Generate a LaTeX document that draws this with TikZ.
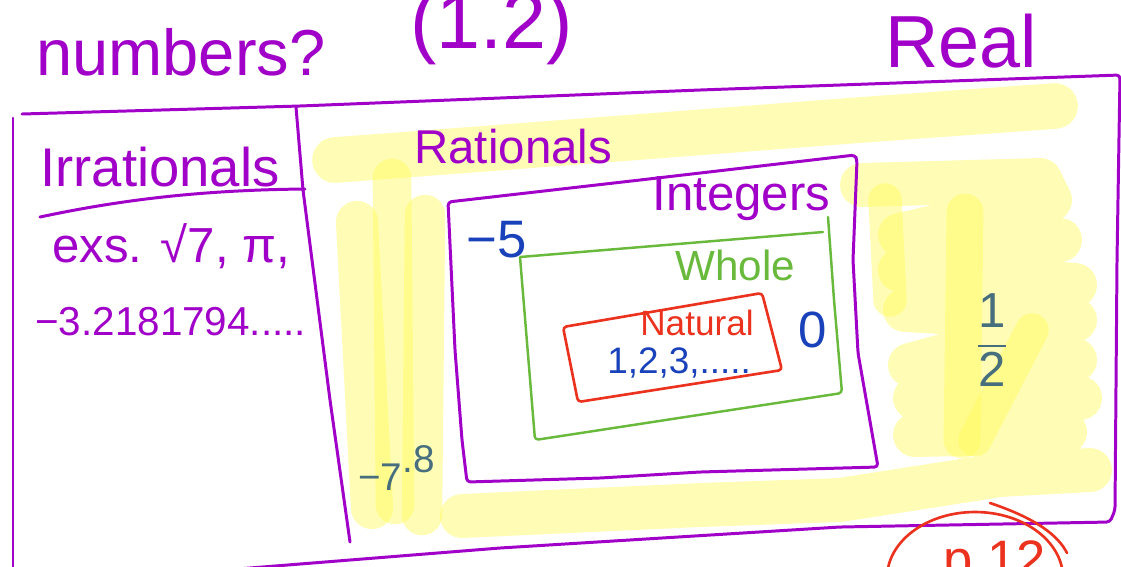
\documentclass[tikz,border=0pt]{standalone}
\usepackage{amsmath}
\usepackage{fontspec}
\setmainfont{Liberation Sans}
\usepackage{xcolor}
\usetikzlibrary{positioning}

\definecolor{penpurple}{RGB}{160,0,200}
\definecolor{pengreen}{RGB}{105,185,60}
\definecolor{penred}{RGB}{235,50,30}
\definecolor{penblue}{RGB}{25,65,185}
\definecolor{penteal}{RGB}{70,110,125}
\definecolor{hilite}{RGB}{255,250,90}
\newcommand{\hand}[1]{\fontsize{#1}{#1}\selectfont}

\begin{document}
\begin{tikzpicture}[x=0.02cm, y=-0.02cm,
    pen/.style={line width=1.7pt, line cap=round, line join=round, rounded corners=2pt},
    hl/.style={line cap=round, line join=round, draw=hilite, opacity=0.45},
    txt/.style={inner sep=0pt, anchor=base west}]
\useasboundingbox (0,0) rectangle (1121,566);
% Highlighter, first pass: top band, right blob, bottom band
\draw[hl, line width=26pt] (335,160) -- (600,140) -- (860,120) -- (1055,106);
\draw[hl, line width=25pt] (862,185) -- (1040,180) -- (1050,200) -- (900,235) -- (1060,240)
    -- (900,270) -- (1075,285) -- (905,310) -- (1075,320) -- (910,365) -- (1075,360)
    -- (915,398) -- (1080,398) -- (915,435) -- (1065,432)
    (462,516) -- (700,505) -- (840,500) -- (1000,475) -- (1090,470);
% Highlighter, second pass: strokes that overlap the first
\foreach \xa/\ya/\xb/\yb/\w in {357/222/372/508/24, 392/178/395/505/22, 425/215/422/515/23,
    885/200/890/300/19, 965/212/962/440/21, 1032/330/975/440/19} {
    \draw[hl, line width=\w pt] (\xa,\ya) -- (\xb,\yb);
}
% Real
\draw[pen, penpurple] (22,114) -- (300,106) -- (700,90) -- (1120,75) -- (1117,260)
    -- (1115,510) -- (1110,522) -- (840,527) -- (500,548) -- (200,572);
\draw[pen, penpurple] (13,118) -- (13,570);
% Irrationals column
\draw[pen, penpurple] (296,107) -- (303,190) -- (330,400) -- (350,542);
\draw[pen, penpurple] (40,217) .. controls (120,200) and (200,190) .. (305,189);
% Integers
\draw[pen, penpurple] (448,202) -- (640,180) -- (855,155) -- (857,160) -- (853,260)
    -- (858,353) -- (878,467) -- (700,472) -- (600,478) -- (467,482) -- (462,440)
    -- (455,350) -- cycle;
% Whole
\draw[pen, pengreen, line width=1.4pt] (520,257) -- (823,232) (828,217) -- (834,300)
    -- (842,393) -- (535,440) -- (520,257);
% Natural
\draw[pen, penred, line width=1.5pt] (563,327) -- (762,293) -- (782,370) -- (578,402) -- cycle;
% page note
\draw[penred, line width=1.5pt] (975,578) ellipse [x radius=88, y radius=66];
\draw[penred, line width=1.5pt, line cap=round] (990,503) .. controls (1035,518) and (1058,535) .. (1067,553);
% Labels
\node[txt, penpurple, font=\hand{37}] (numq) at (36,75) {numbers?};
\node[txt, penpurple, font=\hand{45}] (sec) at (410,48) {(1.2)};
\node[txt, penpurple, font=\hand{42}] (real) at (885,67) {Real};
\node[txt, penpurple, font=\hand{31}] (irr) at (40,186) {Irrationals};
\node[txt, penpurple, font=\hand{28}] (irrex) at (52,262) {exs. √7, π,};
\node[txt, penpurple, font=\hand{23}] (irrnum) at (35,335) {−3.2181794.....};
\node[txt, penpurple, font=\hand{27}] (rat) at (414,163) {Rationals};
\node[txt, penpurple, font=\hand{28}] (int) at (652,210) {Integers};
\node[txt, penblue, font=\hand{30}] (neg5) at (466,257) {−5};
\node[txt, pengreen, font=\hand{24}] (whole) at (675,280) {Whole};
\node[txt, penred, font=\hand{20}] (nat) at (640,335) {Natural};
\node[txt, penblue, font=\hand{21}] (natnum) at (607,373) {1,2,3,.....};
\node[txt, penblue, font=\hand{29}] (zero) at (798,347) {0};
\node[penteal, font=\hand{28}, inner sep=0pt] (half) at (992,340) {$\dfrac{\text{1}}{\text{2}}$};
\node[txt, penteal, font=\hand{22}] (dec) at (358,490) {−7\raisebox{0.45em}{.8}};
\node[txt, penred, font=\hand{30}] (page) at (943,577) {p.12};
\end{tikzpicture}
\end{document}
